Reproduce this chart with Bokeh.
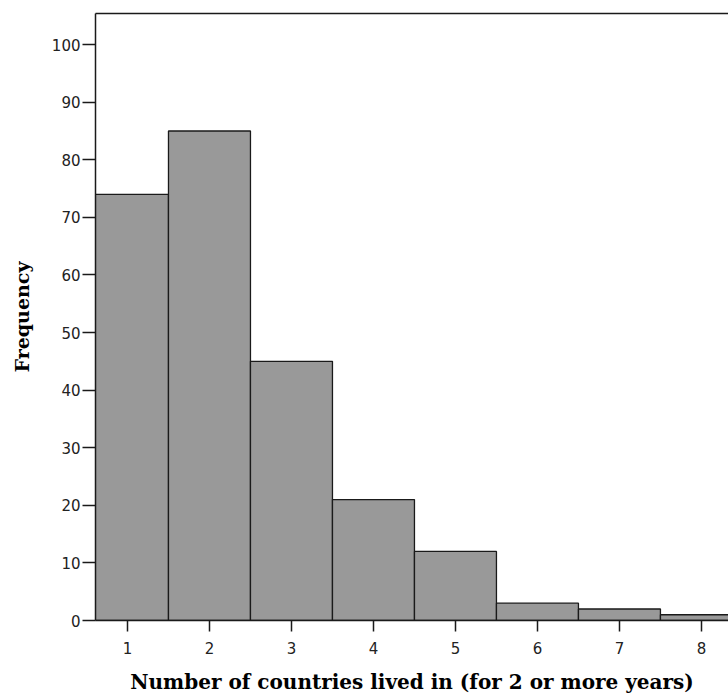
from bokeh.plotting import figure
from bokeh.models import Range1d, FixedTicker, LinearAxis, ColumnDataSource
from bokeh.embed import file_html
from bokeh.resources import INLINE

# Data
countries = [1, 2, 3, 4, 5, 6, 7, 8]
frequency = [74, 85, 45, 21, 12, 3, 2, 1]
y_ticks = [0, 10, 20, 30, 40, 50, 60, 70, 80, 90, 100]
x_ticks = [1, 2, 3, 4, 5, 6, 7, 8]

src = ColumnDataSource(dict(
    left=[c - 0.5 for c in countries],
    right=[c + 0.5 for c in countries],
    top=frequency,
    bottom=[0] * len(countries),
))

p = figure(width=728, height=697, output_backend="svg", toolbar_location=None,
           x_range=Range1d(0.61, 8.33), y_range=Range1d(0, 105.4),
           min_border_left=95, min_border_right=0, min_border_top=13, min_border_bottom=77)

p.quad(left="left", right="right", top="top", bottom="bottom", source=src,
       fill_color="#999999", line_color="#1a1a1a", line_width=1.3)

p.xgrid.visible = False
p.ygrid.visible = False
p.outline_line_color = None
p.background_fill_color = "white"
p.border_fill_color = "white"

for ax in p.xaxis:
    ax.ticker = FixedTicker(ticks=x_ticks)
    ax.axis_label = "Number of countries lived in (for 2 or more years)"
    ax.major_tick_out = 11
    ax.major_tick_in = 0
    ax.major_label_standoff = 10
    ax.axis_label_standoff = 13
    ax.axis_label_text_font_size = "20px"
for ax in p.yaxis:
    ax.ticker = FixedTicker(ticks=y_ticks)
    ax.axis_label = "Frequency"
    ax.major_tick_out = 13
    ax.major_tick_in = 0
    ax.major_label_standoff = 2
    ax.axis_label_standoff = 16
    ax.axis_label_text_font_size = "19px"
for ax in list(p.xaxis) + list(p.yaxis):
    ax.minor_tick_out = 0
    ax.minor_tick_in = 0
    ax.axis_line_color = "#1a1a1a"
    ax.axis_line_width = 1.5
    ax.major_tick_line_color = "#1a1a1a"
    ax.major_tick_line_width = 1.5
    ax.major_label_text_font = "DejaVu Sans"
    ax.major_label_text_font_size = "15px"
    ax.major_label_text_color = "#222222"
    ax.axis_label_text_font = "DejaVu Serif"
    ax.axis_label_text_font_style = "bold"
    ax.axis_label_text_color = "#000000"
p.yaxis.major_label_orientation = "horizontal"

top_axis = LinearAxis(ticker=FixedTicker(ticks=[]), major_tick_out=0, major_tick_in=0,
                      minor_tick_out=0, minor_tick_in=0, major_label_text_font_size="0px",
                      axis_line_color="#1a1a1a", axis_line_width=1.5)
p.add_layout(top_axis, "above")

open("out.html", "w").write(file_html(p, INLINE))
